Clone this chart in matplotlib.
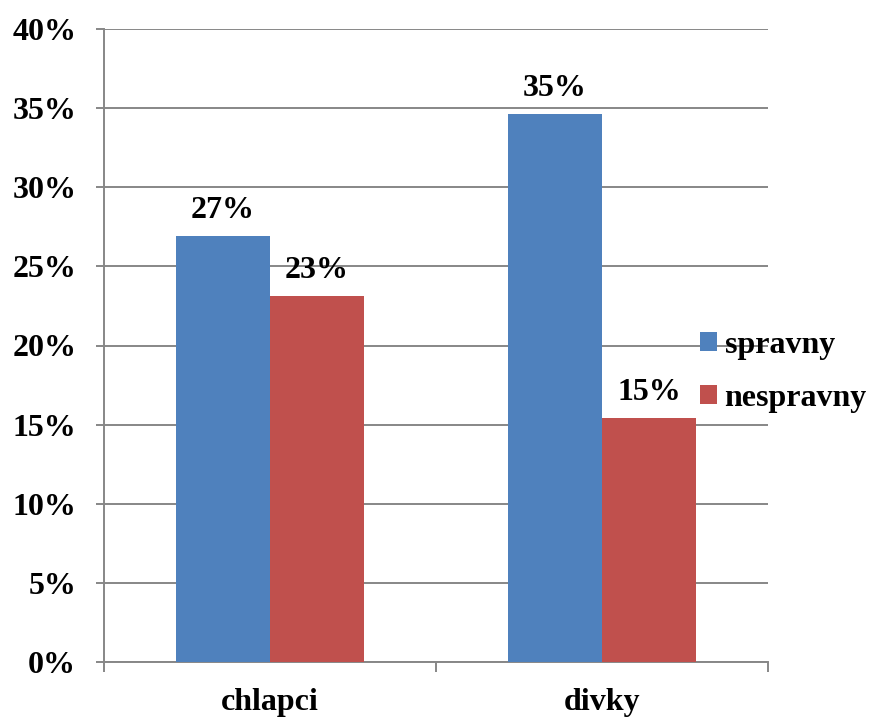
import numpy as np
import matplotlib
matplotlib.use("Agg")
import matplotlib.pyplot as plt
from matplotlib.ticker import FixedLocator

# data
categories = ["chlapci", "divky"]
spravny = [26.9, 34.6]
nespravny = [23.1, 15.4]
spravny_labels = ["27%", "35%"]
nespravny_labels = ["23%", "15%"]
yticks = [0, 5, 10, 15, 20, 25, 30, 35, 40]

plt.rcParams['font.family'] = ['Liberation Serif', 'DejaVu Serif']
plt.rcParams['font.weight'] = 'bold'
fs = 23
grid_col = '#878787'

fig = plt.figure(figsize=(8.7, 7.18), dpi=100)
ax = fig.add_axes([104/870, 1-662/718, (768-104)/870, (662-29)/718])

x = np.arange(len(categories))
w = 0.283
b1 = ax.bar(x - w/2, spravny, w, color='#4F81BD', label='spravny', zorder=3)
b2 = ax.bar(x + w/2, nespravny, w, color='#C0504D', label='nespravny', zorder=3)

for bars, labs in [(b1, spravny_labels), (b2, nespravny_labels)]:
    for r, t in zip(bars, labs):
        ax.annotate(t, (r.get_x() + r.get_width()/2, r.get_height()),
                    xytext=(0, 8), textcoords='offset points',
                    ha='center', va='bottom', fontsize=fs, fontweight='bold', zorder=5)

ax.set_xlim(-0.5, 1.5)
ax.set_ylim(0, 40)
ax.set_yticks(yticks)
ax.set_yticklabels([f"{v}%" for v in yticks])
ax.yaxis.grid(True, color=grid_col, linewidth=1.4, zorder=0)
ax.set_axisbelow(True)

ax.set_xticks(x)
ax.set_xticklabels(categories)
ax.xaxis.set_minor_locator(FixedLocator([-0.5, 0.5, 1.5]))
ax.tick_params(axis='x', which='major', length=0, pad=19, labelsize=fs)
ax.tick_params(axis='x', which='minor', length=7, width=1.4, color=grid_col)
ax.tick_params(axis='y', length=6, width=1.4, color=grid_col, pad=14, labelsize=fs)

for s in ['top', 'right']:
    ax.spines[s].set_visible(False)
for s in ['left', 'bottom']:
    ax.spines[s].set_color(grid_col)
    ax.spines[s].set_linewidth(1.4)

leg = ax.legend(loc='center left', bbox_to_anchor=(700/870, 1-372/718),
                bbox_transform=fig.transFigure, frameon=False, fontsize=fs,
                handlelength=0.52, handleheight=0.52, handletextpad=0.25,
                labelspacing=0.75, borderpad=0, borderaxespad=0)

fig.savefig("out.png", dpi=100)
